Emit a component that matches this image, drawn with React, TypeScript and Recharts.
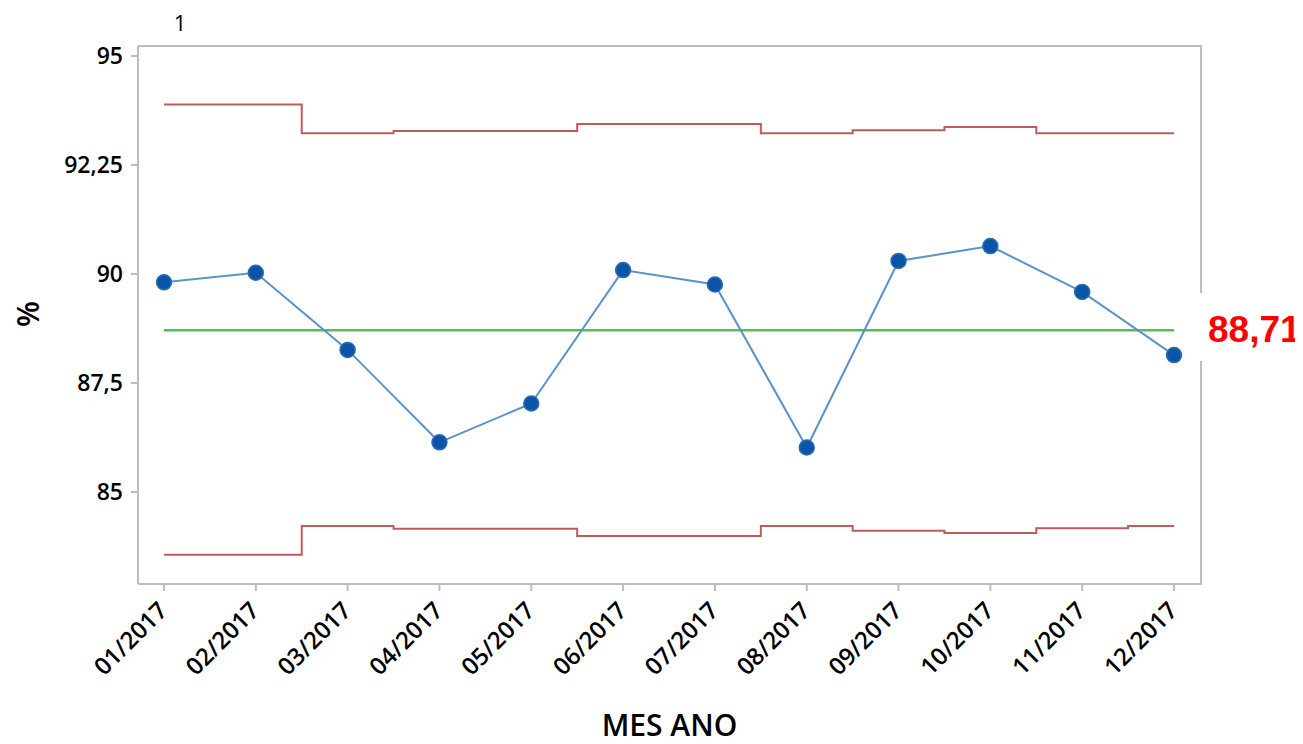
import React from 'react';
import { LineChart, Line, XAxis, YAxis, ReferenceLine, Customized } from 'recharts';

const CATEGORIES = ['01/2017', '02/2017', '03/2017', '04/2017', '05/2017', '06/2017', '07/2017', '08/2017', '09/2017', '10/2017', '11/2017', '12/2017'];
const PERCENT = [89.81, 90.03, 88.26, 86.14, 87.03, 90.09, 89.76, 86.02, 90.30, 90.64, 89.59, 88.14];
const UCL = [93.89, 93.89, 93.23, 93.28, 93.28, 93.44, 93.44, 93.23, 93.30, 93.37, 93.23, 93.23];
const LCL = [83.56, 83.56, 84.22, 84.16, 84.16, 83.99, 83.99, 84.22, 84.11, 84.06, 84.17, 84.22];
const CL = 88.71;
const CL_LABEL = '88,71';
const Y_TICKS = [85, 87.5, 90, 92.5, 95];
const Y_TICK_LABELS = ['85', '87,5', '90', '92,25', '95'];
const Y_DOMAIN = [82.89, 95.23];

const data = CATEGORIES.map((month, i) => ({
  month,
  pct: PERCENT[i],
  ucl: UCL[i],
  lcl: LCL[i],
  cl: CL,
}));

const W = 1295;
const H = 736;
const M_TOP = 38;
const M_RIGHT = 102;
const Y_W = 130;
const X_H = 160;
const PLOT_L = Y_W;
const PLOT_R = W - M_RIGHT;
const PLOT_T = M_TOP;
const PLOT_B = H - X_H;

const AXIS_COLOR = '#BDBDBD';
const FONT = '"Open Sans", "Noto Sans", sans-serif';

const XTick = (props: any) => {
  const { x, y, payload } = props;
  const tx = x + 5;
  const ty = y + 19;
  return (
    <text x={tx} y={ty} textAnchor="end" transform={`rotate(-45, ${tx}, ${ty})`} fontSize={24} fontWeight={600} fill="#000" fontFamily={FONT}>
      {payload.value}
    </text>
  );
};

const Decor = () => (
  <g>
    <line x1={PLOT_L} y1={PLOT_T} x2={PLOT_R} y2={PLOT_T} stroke={AXIS_COLOR} strokeWidth={2} />
    <line x1={PLOT_R} y1={PLOT_T - 1} x2={PLOT_R} y2={285} stroke={AXIS_COLOR} strokeWidth={2} />
    <line x1={PLOT_R} y1={353} x2={PLOT_R} y2={PLOT_B + 1} stroke={AXIS_COLOR} strokeWidth={2} />
    <text x={172} y={23} textAnchor="middle" fontSize={22} fill="#000" fontFamily={FONT}>1</text>
    <text x={31} y={306} textAnchor="middle" fontSize={30} fontWeight={600} fill="#000" fontFamily={FONT} transform="rotate(-90, 31, 306)">%</text>
  </g>
);

const ClLabel = (props: any) => {
  const vb = props.viewBox || {};
  const x = (vb.x ?? 0) + (vb.width ?? 0) + 7;
  const y = (vb.y ?? 0) + 12;
  return (
    <text x={x} y={y} fontSize={37} fontWeight="bold" fill="#FF0000" fontFamily='"Liberation Sans", Arial, sans-serif'>
      {CL_LABEL}
    </text>
  );
};

export default function App() {
  return (
    <div style={{ width: W, height: H, fontFamily: FONT }}>
      <LineChart width={W} height={H} data={data} margin={{ top: M_TOP, right: M_RIGHT, left: 0, bottom: 0 }}>
        <XAxis
          dataKey="month"
          height={X_H}
          interval={0}
          padding={{ left: 26, right: 27 }}
          axisLine={{ stroke: AXIS_COLOR, strokeWidth: 2 }}
          tickLine={{ stroke: AXIS_COLOR, strokeWidth: 2 }}
          tickSize={7}
          tick={<XTick />}
          label={{ value: 'MES ANO', position: 'insideBottom', offset: 8, fontSize: 30, fontWeight: 600, fill: '#000', fontFamily: FONT }}
        />
        <YAxis
          width={Y_W}
          domain={Y_DOMAIN}
          ticks={Y_TICKS}
          type="number"
          allowDataOverflow
          axisLine={{ stroke: AXIS_COLOR, strokeWidth: 2 }}
          tickLine={{ stroke: AXIS_COLOR, strokeWidth: 2 }}
          tickSize={7}
          tickMargin={8}
          tick={{ fontSize: 23, fontWeight: 600, fill: '#000', fontFamily: FONT }}
          tickFormatter={(v: number) => {
            const i = Y_TICKS.indexOf(v);
            return i >= 0 ? Y_TICK_LABELS[i] : String(v);
          }}
        />
        <ReferenceLine y={CL} stroke="none" strokeOpacity={0} label={<ClLabel />} />
        <Line dataKey="ucl" type="step" stroke="#BF5B5B" strokeWidth={2} dot={false} isAnimationActive={false} />
        <Line dataKey="lcl" type="step" stroke="#BF5B5B" strokeWidth={2} dot={false} isAnimationActive={false} />
        <Line dataKey="cl" type="linear" stroke="#5CB85F" strokeWidth={2.5} dot={false} isAnimationActive={false} />
        <Line
          dataKey="pct"
          type="linear"
          stroke="#5B93C9"
          strokeWidth={2}
          dot={{ r: 7.5, fill: '#0A55A8', stroke: '#2D6BB3', strokeWidth: 1.5 }}
          isAnimationActive={false}
        />
        <Customized component={Decor} />
      </LineChart>
    </div>
  );
}
